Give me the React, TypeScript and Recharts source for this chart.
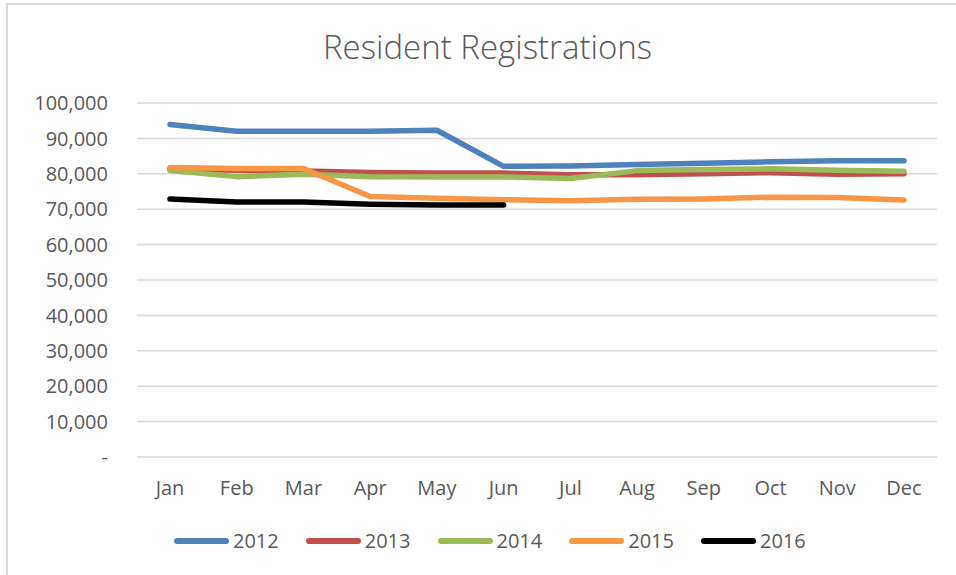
import React from 'react';
import { LineChart, Line, XAxis, YAxis, CartesianGrid } from 'recharts';

const months = ['Jan', 'Feb', 'Mar', 'Apr', 'May', 'Jun', 'Jul', 'Aug', 'Sep', 'Oct', 'Nov', 'Dec'];

const y2012 = [93900, 92000, 92000, 92000, 92300, 82100, 82200, 82600, 83000, 83400, 83700, 83700];
const y2013 = [81300, 81000, 80800, 80400, 80200, 80200, 79700, 79700, 80000, 80300, 79900, 80000];
const y2014 = [80900, 79200, 79900, 79200, 79100, 79100, 78700, 80900, 81200, 81400, 81000, 80700];
const y2015 = [81800, 81500, 81500, 73600, 73100, 72700, 72400, 72800, 72900, 73400, 73300, 72600];
const y2016 = [72900, 72000, 72000, 71400, 71200, 71200];

const yTicks = [0, 10000, 20000, 30000, 40000, 50000, 60000, 70000, 80000, 90000, 100000];

const series = [
  { key: 'y2012', name: '2012', color: '#4F81BD' },
  { key: 'y2013', name: '2013', color: '#C0504D' },
  { key: 'y2014', name: '2014', color: '#9BBB59' },
  { key: 'y2015', name: '2015', color: '#F79646' },
  { key: 'y2016', name: '2016', color: '#000000' },
];

const data = months.map((m, i) => ({
  month: m,
  y2012: y2012[i],
  y2013: y2013[i],
  y2014: y2014[i],
  y2015: y2015[i],
  y2016: i < y2016.length ? y2016[i] : null,
}));

const FONT = '"Open Sans", "Noto Sans", sans-serif';
const TEXT = '#595959';

const formatY = (v: number) => (v === 0 ? '-' : v.toLocaleString('en-US'));

export default function App() {
  return (
    <div style={{ position: 'absolute', left: 0, top: 0, width: 956, height: 575, background: '#fff', overflow: 'hidden' }}>
      <div style={{ position: 'absolute', left: 6, top: 3, width: 1000, height: 1000, borderLeft: '2px solid #D9D9D9', borderTop: '2px solid #D9D9D9' }} />
      <div style={{ position: 'absolute', left: 0, top: 24, width: 975, textAlign: 'center', fontFamily: FONT, fontSize: 33, lineHeight: '45px', color: TEXT, fontWeight: 300 }}>
        Resident Registrations
      </div>
      <LineChart width={956} height={575} data={data} margin={{ top: 103, right: 19, bottom: 88, left: 0 }} style={{ position: 'absolute', left: 0, top: 0 }}>
        <CartesianGrid vertical={false} stroke="#D9D9D9" strokeWidth={1.5} />
        <XAxis
          dataKey="month"
          axisLine={false}
          tickLine={false}
          tickSize={0}
          tickMargin={24}
          padding={{ left: 33, right: 33 }}
          tick={{ fill: TEXT, fontSize: 20, fontFamily: FONT }}
          interval={0}
        />
        <YAxis
          width={137}
          domain={[0, 100000]}
          ticks={yTicks}
          axisLine={false}
          tickLine={false}
          tickSize={0}
          tickMargin={29}
          tickFormatter={formatY}
          tick={{ fill: TEXT, fontSize: 20, fontFamily: FONT }}
        />
        {series.map((s) => (
          <Line
            key={s.key}
            type="linear"
            dataKey={s.key}
            name={s.name}
            stroke={s.color}
            strokeWidth={5.5}
            strokeLinecap="round"
            strokeLinejoin="round"
            dot={false}
            activeDot={false}
            connectNulls={false}
            isAnimationActive={false}
          />
        ))}
      </LineChart>
      <div style={{ position: 'absolute', left: 174, top: 527, height: 28, display: 'flex', gap: 27, fontFamily: FONT, fontSize: 20, lineHeight: '28px', color: TEXT }}>
        {series.map((s) => (
          <div key={s.key} style={{ display: 'flex', alignItems: 'center', gap: 4 }}>
            <span style={{ display: 'inline-block', width: 55, height: 6, borderRadius: 3, background: s.color }} />
            <span>{s.name}</span>
          </div>
        ))}
      </div>
    </div>
  );
}
